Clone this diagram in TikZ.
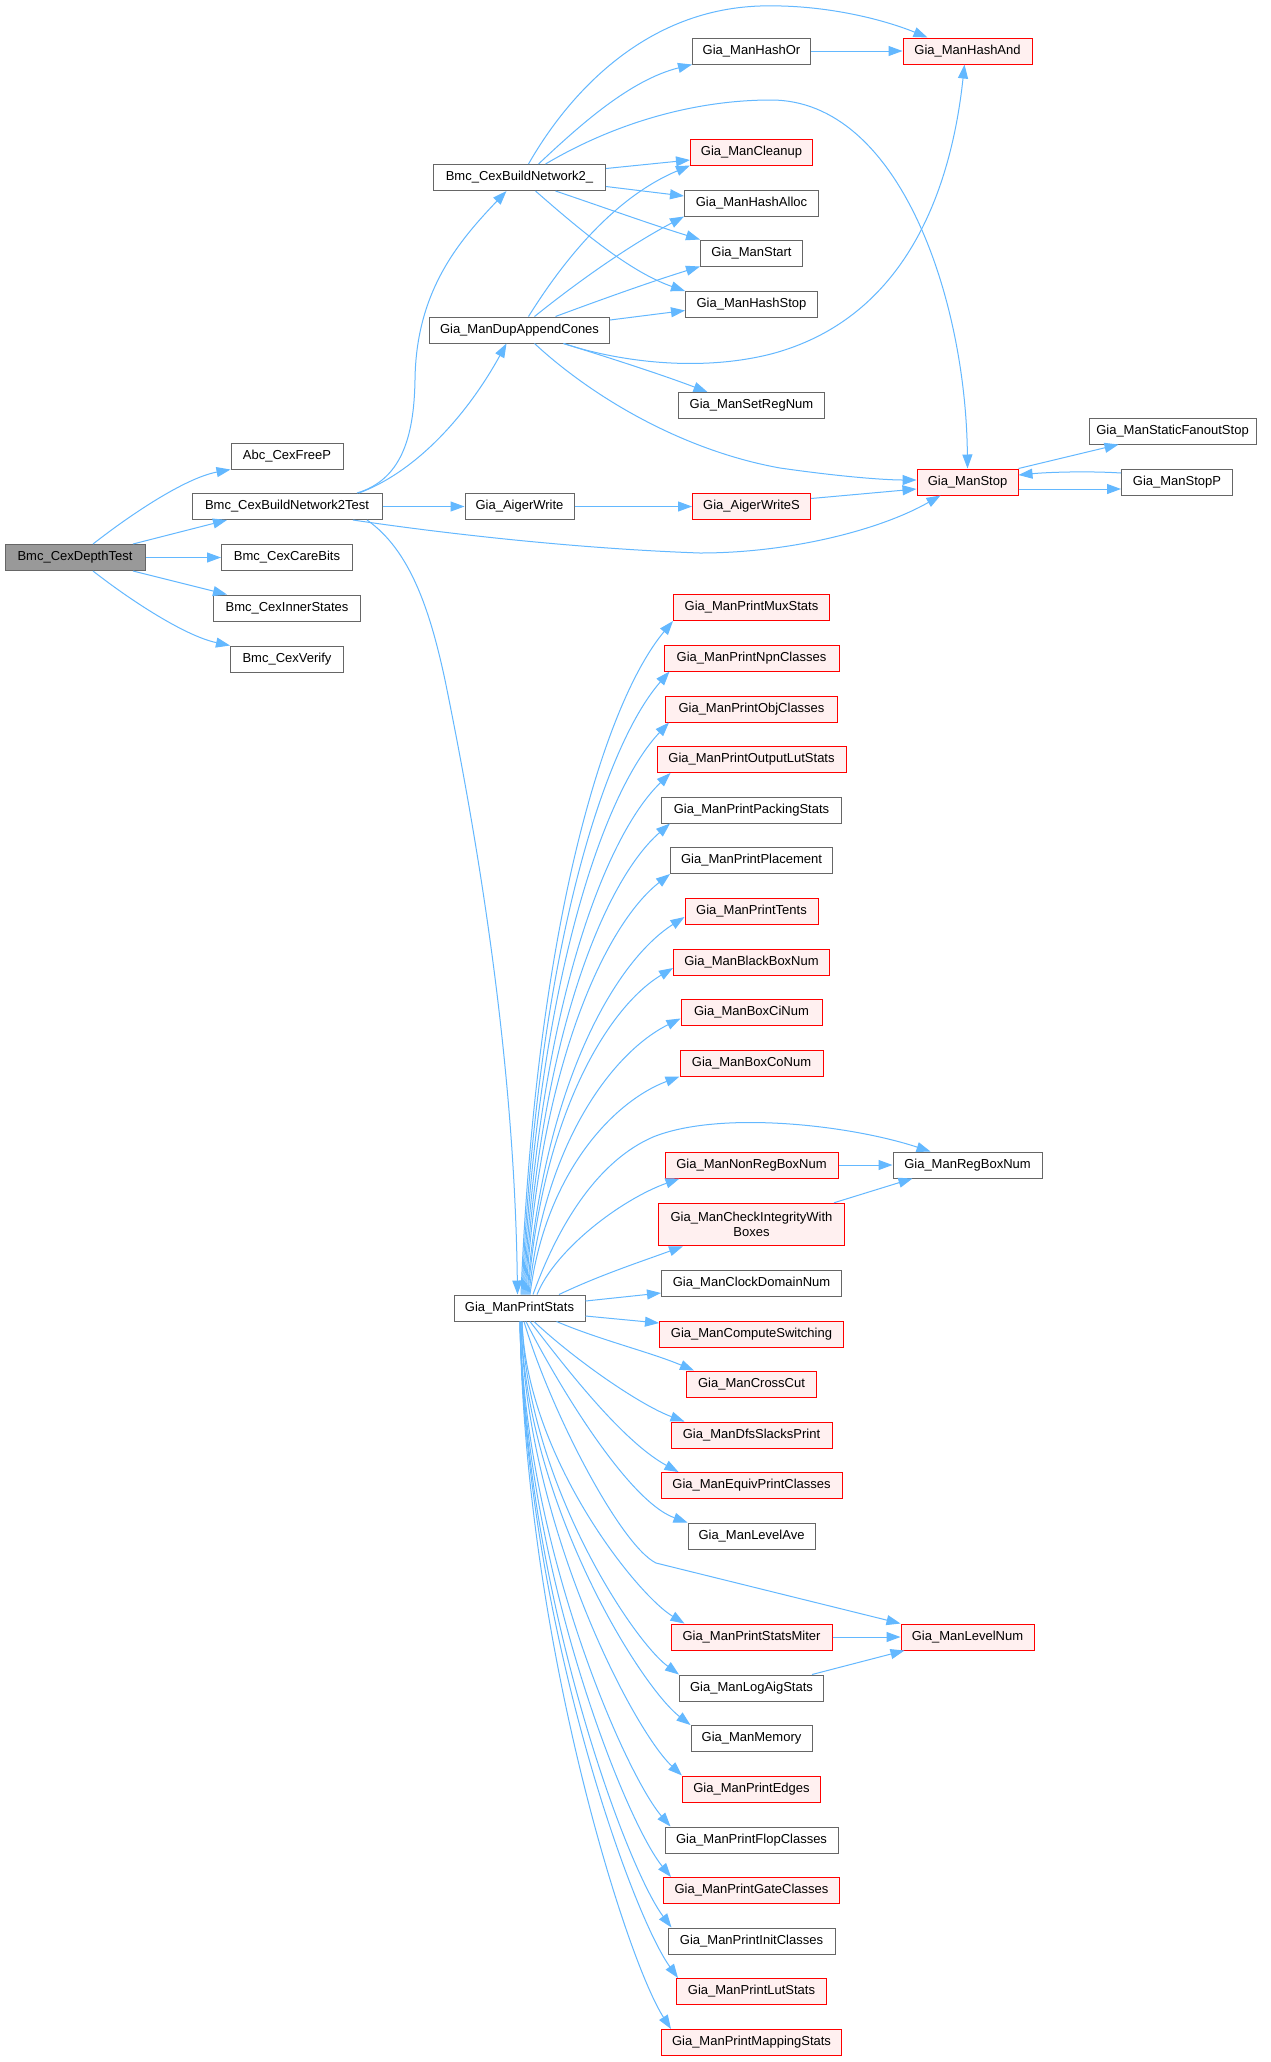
\documentclass[tikz,border=0pt]{standalone}
\usepackage{fontspec}
\setmainfont{Liberation Sans}
\usetikzlibrary{arrows.meta}
\definecolor{edgeblue}{HTML}{63B8FF}
\definecolor{nodegray}{HTML}{666666}
\definecolor{redfill}{HTML}{FFF0F0}
\definecolor{rootfill}{HTML}{999999}
\tikzset{
  box/.style={draw=nodegray, fill=white, line width=1pt, minimum height=26pt, inner xsep=2pt, inner ysep=0pt, font=\fontsize{13}{15.5}\selectfont, align=center},
  redbox/.style={box, draw=red},
  redbox/.append style={fill=redfill},
  rootbox/.style={box, fill=rootfill},
  edge/.style={draw=edgeblue, line width=1pt, -{Triangle[length=14pt,width=10pt]}}
}
\begin{document}
\begin{tikzpicture}[x=1pt,y=-1pt]
\useasboundingbox[fill=white] (0,0) rectangle (1270,2062);
% column 0/1
\node[rootbox, minimum width=140pt] (root) at (75,557.5) {Bmc\_CexDepthTest};
\node[box, minimum width=112pt] (abc) at (287,456) {Abc\_CexFreeP};
\node[box, minimum width=190pt] (bn2t) at (287,506.5) {Bmc\_CexBuildNetwork2Test};
\node[box, minimum width=131pt] (care) at (287,557.5) {Bmc\_CexCareBits};
\node[box, minimum width=147pt] (inner) at (287,608) {Bmc\_CexInnerStates};
\node[box, minimum width=113pt] (verify) at (287,659) {Bmc\_CexVerify};
% column 2
\node[box, minimum width=172pt] (bn2) at (519.5,177.5) {Bmc\_CexBuildNetwork2\_};
\node[box, minimum width=180pt] (dup) at (519.5,330) {Gia\_ManDupAppendCones};
\node[box, minimum width=109pt] (aw) at (519.5,506.5) {Gia\_AigerWrite};
\node[box, minimum width=131pt] (ps) at (519.5,1308) {Gia\_ManPrintStats};
% column 3
\node[box, minimum width=118pt] (hor) at (751.5,51) {Gia\_ManHashOr};
\node[redbox, minimum width=122pt] (clean) at (751.5,152) {Gia\_ManCleanup};
\node[box, minimum width=134pt] (halloc) at (751.5,203) {Gia\_ManHashAlloc};
\node[box, minimum width=102pt] (start) at (751.5,253) {Gia\_ManStart};
\node[box, minimum width=132pt] (hstop) at (751.5,304.5) {Gia\_ManHashStop};
\node[box, minimum width=146pt] (setreg) at (751.5,405.5) {Gia\_ManSetRegNum};
\node[redbox, minimum width=118pt] (aws) at (751.5,506.5) {Gia\_AigerWriteS};
\node[redbox, minimum width=156pt] (mux) at (751.5,607.5) {Gia\_ManPrintMuxStats};
\node[redbox, minimum width=175pt] (npn) at (751.5,658) {Gia\_ManPrintNpnClasses};
\node[redbox, minimum width=172pt] (obj) at (751.5,709) {Gia\_ManPrintObjClasses};
\node[redbox, minimum width=189pt] (outlut) at (751.5,759.5) {Gia\_ManPrintOutputLutStats};
\node[box, minimum width=180pt] (packing) at (751.5,810) {Gia\_ManPrintPackingStats};
\node[box, minimum width=162pt] (placement) at (751.5,860.5) {Gia\_ManPrintPlacement};
\node[redbox, minimum width=133pt] (tents) at (751.5,911) {Gia\_ManPrintTents};
\node[redbox, minimum width=156pt] (blackbox) at (751.5,962) {Gia\_ManBlackBoxNum};
\node[redbox, minimum width=141pt] (boxci) at (751.5,1012.5) {Gia\_ManBoxCiNum};
\node[redbox, minimum width=143pt] (boxco) at (751.5,1063) {Gia\_ManBoxCoNum};
\node[redbox, minimum width=173pt] (nonreg) at (751.5,1165) {Gia\_ManNonRegBoxNum};
\node[redbox, minimum width=186pt, minimum height=42.5pt] (check) at (751.5,1224.5) {Gia\_ManCheckIntegrityWith\\Boxes};
\node[box, minimum width=180pt] (clock) at (751.5,1283) {Gia\_ManClockDomainNum};
\node[redbox, minimum width=184pt] (compute) at (751.5,1334) {Gia\_ManComputeSwitching};
\node[redbox, minimum width=130pt] (crosscut) at (751.5,1384) {Gia\_ManCrossCut};
\node[redbox, minimum width=161pt] (dfs) at (751.5,1435) {Gia\_ManDfsSlacksPrint};
\node[redbox, minimum width=181pt] (equiv) at (751.5,1485.5) {Gia\_ManEquivPrintClasses};
\node[box, minimum width=127pt] (levelave) at (751.5,1536) {Gia\_ManLevelAve};
\node[redbox, minimum width=161pt] (statsmiter) at (751.5,1637) {Gia\_ManPrintStatsMiter};
\node[box, minimum width=144pt] (logaig) at (751.5,1688) {Gia\_ManLogAigStats};
\node[box, minimum width=121pt] (memory) at (751.5,1738.5) {Gia\_ManMemory};
\node[redbox, minimum width=138pt] (edges) at (751.5,1789) {Gia\_ManPrintEdges};
\node[box, minimum width=173pt] (flop) at (751.5,1840) {Gia\_ManPrintFlopClasses};
\node[redbox, minimum width=176pt] (gate) at (751.5,1890.5) {Gia\_ManPrintGateClasses};
\node[box, minimum width=167pt] (init) at (751.5,1941) {Gia\_ManPrintInitClasses};
\node[redbox, minimum width=150pt] (lut) at (751.5,1991.5) {Gia\_ManPrintLutStats};
\node[redbox, minimum width=180pt] (mapping) at (751.5,2042.5) {Gia\_ManPrintMappingStats};
% column 4/5
\node[redbox, minimum width=129pt] (hand) at (967.5,51) {Gia\_ManHashAnd};
\node[redbox, minimum width=101pt] (stop) at (967.5,482) {Gia\_ManStop};
\node[box, minimum width=149pt] (regbox) at (967.5,1165) {Gia\_ManRegBoxNum};
\node[redbox, minimum width=133pt] (levelnum) at (967.5,1637) {Gia\_ManLevelNum};
\node[box, minimum width=167pt] (sfs) at (1172.5,431) {Gia\_ManStaticFanoutStop};
\node[box, minimum width=111pt] (stopp) at (1177,482) {Gia\_ManStopP};

% root edges
\draw[edge] ([xshift=18pt]root.north) .. controls (130,515) and (185,478) .. (abc.south west);
\draw[edge] ([xshift=58pt]root.north) -- ([xshift=-60pt]bn2t.south);
\draw[edge] (root.east) -- (care.west);
\draw[edge] ([xshift=58pt]root.south) -- ([xshift=-60pt]inner.north);
\draw[edge] ([xshift=18pt]root.south) .. controls (130,600) and (185,636) .. (verify.north west);
% bn2t edges
\draw[edge] ([xshift=70pt]bn2t.north) .. controls (400,480) and (414,440) .. (415,380) .. controls (416,290) and (460,240) .. ([xshift=-13pt]bn2.south);
\draw[edge] ([xshift=72pt]bn2t.north) .. controls (420,470) and (470,410) .. ([xshift=-13pt]dup.south);
\draw[edge] (bn2t.east) -- (aw.west);
\draw[edge] ([xshift=66pt]bn2t.south) .. controls (420,530) and (560,548) .. (700,553) .. controls (790,553) and (880,530) .. ([xshift=-27pt]stop.south);
\draw[edge] ([xshift=80pt]bn2t.south) .. controls (410,550) and (430,610) .. (445,680) .. controls (490,900) and (515,1100) .. ([xshift=-2pt]ps.north);
% bn2 edges
\draw[edge] ([xshift=9pt]bn2.north) .. controls (565,100) and (640,10) .. (760,6) .. controls (830,4) and (890,22) .. ([xshift=-40pt]hand.north);
\draw[edge] ([xshift=19pt]bn2.north) .. controls (580,125) and (630,80) .. (hor.south west);
\draw[edge] ([xshift=26pt]bn2.north) .. controls (620,120) and (700,100) .. (771,100) .. controls (900,100) and (966,300) .. (stop.north);
\draw[edge] ([yshift=9pt]bn2.east) -- ([yshift=-8pt]clean.west);
\draw[edge] ([yshift=-9pt]bn2.east) -- ([yshift=7pt]halloc.west);
\draw[edge] ([xshift=36pt]bn2.south) .. controls (600,206) and (650,224) .. (start.north west);
\draw[edge] ([xshift=16pt]bn2.south) .. controls (580,230) and (630,272) .. (hstop.north west);
% dup edges
\draw[edge] ([xshift=9pt]dup.north) .. controls (570,250) and (620,195) .. (clean.south west);
\draw[edge] ([xshift=15pt]dup.north) .. controls (580,280) and (630,245) .. (halloc.south west);
\draw[edge] ([xshift=36pt]dup.north) .. controls (600,300) and (650,282) .. (start.south west);
\draw[edge] ([yshift=10pt]dup.east) -- ([yshift=-6pt]hstop.west);
\draw[edge] ([xshift=44pt]dup.south) .. controls (620,362) and (700,372) .. (771,354) .. controls (900,320) and (950,200) .. ([xshift=-3pt]hand.south);
\draw[edge] ([xshift=44pt]dup.south) .. controls (610,358) and (660,374) .. ([xshift=-44pt]setreg.north);
\draw[edge] ([xshift=15pt]dup.south) .. controls (590,395) and (680,450) .. (780,468) .. controls (850,478) and (890,480) .. ([yshift=2pt]stop.west);
% aiger / stop
\draw[edge] (aw.east) -- (aws.west);
\draw[edge] ([yshift=8pt]aws.east) -- ([yshift=-7pt]stop.west);
\draw[edge] (stop.north east) -- ([xshift=-54pt]sfs.south);
\draw[edge] ([yshift=-7pt]stop.east) -- ([yshift=-7pt]stopp.west);
\draw[edge] ([yshift=9pt]stopp.west) .. controls (1090,471) and (1050,472) .. ([yshift=7pt]stop.east);
\draw[edge] (hor.east) -- (hand.west);
% ps upper fan
\draw[edge] ([xshift=1.5pt]ps.north) .. controls (536,924) and (605,702) .. (mux.south west);
\draw[edge] ([xshift=2.5pt]ps.north) .. controls (537,952) and (604,746) .. ([xshift=6pt]npn.south west);
\draw[edge] ([xshift=3.5pt]ps.north) .. controls (538,980) and (604,791) .. ([xshift=4pt]obj.south west);
\draw[edge] ([xshift=4.5pt]ps.north) .. controls (539,1008) and (605,836) .. ([xshift=14pt]outlut.south west);
\draw[edge] ([xshift=5.5pt]ps.north) .. controls (540,1035) and (605,880) .. ([xshift=9pt]packing.south west);
\draw[edge] ([xshift=6.5pt]ps.north) .. controls (540,1063) and (606,924) .. (placement.south west);
\draw[edge] ([xshift=7.5pt]ps.north) .. controls (543,1087) and (614,962) .. ([yshift=-6pt]tents.west);
\draw[edge] ([xshift=8.5pt]ps.north) .. controls (542,1115) and (608,1007) .. ([yshift=-6pt]blackbox.west);
\draw[edge] ([xshift=9.5pt]ps.north) .. controls (544,1143) and (613,1052) .. ([yshift=-6pt]boxci.west);
\draw[edge] ([xshift=10.5pt]ps.north) .. controls (545,1175) and (612,1102) .. (boxco.south west);
\draw[edge] ([xshift=13.5pt]ps.north) .. controls (560,1220) and (600,1160) .. (653,1137) .. controls (720,1110) and (850,1125) .. ([xshift=-37pt]regbox.north);
\draw[edge] ([xshift=17.5pt]ps.north) .. controls (555,1250) and (620,1200) .. ([xshift=15pt]nonreg.south west);
\draw[edge] ([xshift=39.5pt]ps.north) .. controls (600,1275) and (640,1262) .. ([xshift=25pt]check.south west);
\draw[edge] ([yshift=7pt]ps.east) -- ([yshift=-10pt]clock.west);
\draw[edge] ([yshift=-8pt]ps.east) -- ([yshift=11pt]compute.west);
% ps right/lower group
\draw[edge] ([xshift=37pt]ps.south) .. controls (600,1340) and (650,1352) .. ([xshift=8pt]crosscut.north west);
\draw[edge] ([xshift=14.5pt]ps.south) .. controls (575,1360) and (640,1405) .. ([xshift=14pt]dfs.north west);
\draw[edge] ([xshift=10.5pt]ps.south) .. controls (560,1360) and (620,1440) .. ([xshift=18pt]equiv.north west);
\draw[edge] ([xshift=6.5pt]ps.south) .. controls (550,1370) and (625,1500) .. (levelave.north west);
\draw[edge] ([xshift=4.5pt]ps.south) .. controls (550,1410) and (620,1545) .. (656,1563) -- (levelnum.north west);
\draw[edge] ([xshift=2.5pt]ps.south) .. controls (527,1457) and (636,1594) .. ([xshift=14pt]statsmiter.north west);
\draw[edge] ([xshift=2.5pt]ps.south) .. controls (527,1480) and (632,1640) .. (logaig.north west);
\draw[edge] ([xshift=1.5pt]ps.south) .. controls (526,1503) and (640,1686) .. (memory.north west);
\draw[edge] ([xshift=1.5pt]ps.south) .. controls (526,1526) and (634,1731) .. (edges.north west);
\draw[edge] ([xshift=0.5pt]ps.south) .. controls (525,1548) and (626,1775) .. ([xshift=6pt]flop.north west);
\draw[edge] ([xshift=0.5pt]ps.south) .. controls (525,1572) and (626,1822) .. ([xshift=8pt]gate.north west);
\draw[edge] ([xshift=0.5pt]ps.south) .. controls (525,1594) and (626,1867) .. ([xshift=4pt]init.north west);
\draw[edge] ([xshift=0.5pt]ps.south) .. controls (525,1617) and (631,1913) .. ([xshift=2pt]lut.north west);
\draw[edge] ([xshift=0.5pt]ps.south) .. controls (525,1640) and (626,1959) .. ([xshift=10pt]mapping.north west);
% other
\draw[edge] (statsmiter.east) -- (levelnum.west);
\draw[edge] ([xshift=-12pt]logaig.north east) -- ([xshift=4pt]levelnum.south west);
\draw[edge] (nonreg.east) -- (regbox.west);
\draw[edge] ([xshift=-11pt]check.north east) -- ([xshift=-55pt]regbox.south);
\end{tikzpicture}
\end{document}
